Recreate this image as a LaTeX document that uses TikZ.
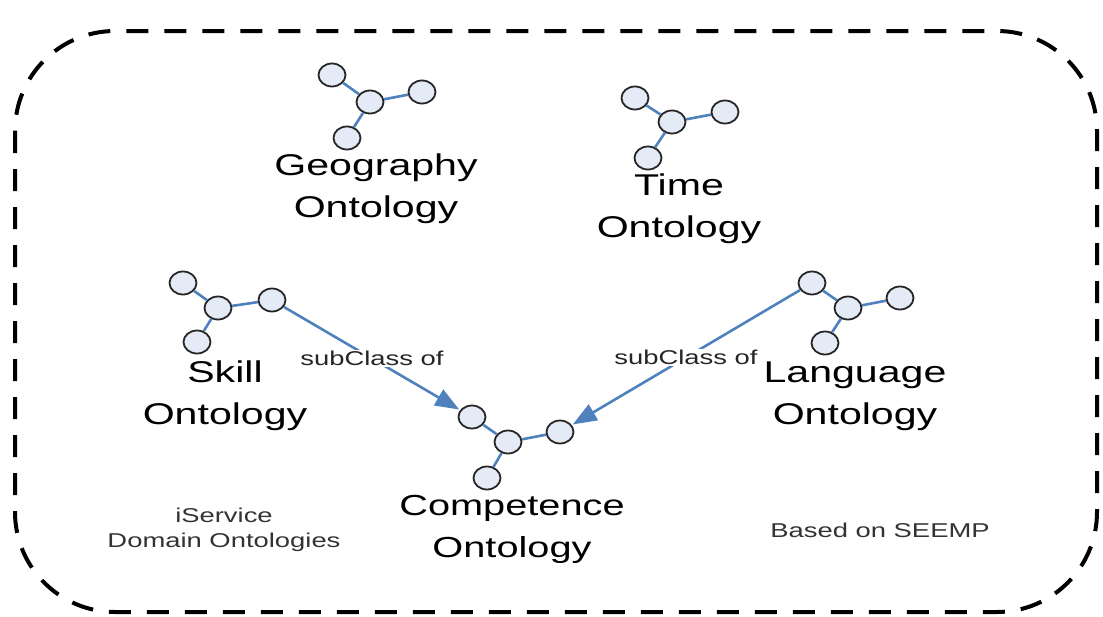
\documentclass[tikz,border=0pt]{standalone}
\usepackage{fontspec}
\newfontfamily\diagfont[FakeStretch=1.37]{Liberation Sans}
\usetikzlibrary{shapes.geometric,arrows.meta}
\definecolor{linkblue}{HTML}{4F81BD}
\definecolor{nodefill}{HTML}{E4EBF7}
\begin{document}
\begin{tikzpicture}[x=1pt,y=-1pt,
  main node/.style={ellipse,draw=black!85,line width=1.8pt,fill=nodefill,inner sep=0pt,minimum width=27pt,minimum height=23pt},
  link/.style={color=linkblue,line width=2.6pt},
  sub arrow/.style={color=linkblue,line width=2.6pt,-{Triangle[length=24pt,width=18pt]},shorten >=1pt},
  big label/.style={font=\diagfont\fontsize{30}{42}\selectfont,align=center,text=black},
  small label/.style={font=\diagfont\fontsize{20}{25}\selectfont,align=center,text=black!80}]

  \useasboundingbox (0,0) rectangle (1103,616);
  \draw[line width=4pt,dash pattern=on 22pt off 16pt,rounded corners=100pt] (15,31) rectangle (1097,612);

  % Geography
  \node[main node] (g0) at (332,75) {};
  \node[main node] (g1) at (370,102) {};
  \node[main node] (g2) at (422,92) {};
  \node[main node] (g3) at (347,138) {};
  % Time
  \node[main node] (t0) at (635,98) {};
  \node[main node] (t1) at (672,122) {};
  \node[main node] (t2) at (725,112) {};
  \node[main node] (t3) at (648,158) {};
  % Skill
  \node[main node] (s0) at (183,283) {};
  \node[main node] (s1) at (218,308) {};
  \node[main node] (s2) at (272,300) {};
  \node[main node] (s3) at (197,342) {};
  % Language
  \node[main node] (l0) at (812,283) {};
  \node[main node] (l1) at (848,308) {};
  \node[main node] (l2) at (900,298) {};
  \node[main node] (l3) at (825,343) {};
  % Competence
  \node[main node] (c0) at (472,417) {};
  \node[main node] (c1) at (508,442) {};
  \node[main node] (c2) at (560,432) {};
  \node[main node] (c3) at (487,478) {};

  \path[link]
    (g0) edge (g1) (g1) edge (g2) (g1) edge (g3)
    (t0) edge (t1) (t1) edge (t2) (t1) edge (t3)
    (s0) edge (s1) (s1) edge (s2) (s1) edge (s3)
    (l0) edge (l1) (l1) edge (l2) (l1) edge (l3)
    (c0) edge (c1) (c1) edge (c2) (c1) edge (c3);

  \draw[sub arrow] (s2) -- node[fill=white,inner sep=1pt,small label,text=black!85]{subClass of} (c0);
  \draw[sub arrow] (l0) -- node[fill=white,inner sep=1pt,small label,text=black!85]{subClass of} (c2);

  \node[big label] (geo) at (376,189) {Geography\\Ontology};
  \node[big label] (time) at (679,209) {Time\\Ontology};
  \node[big label] (skill) at (225,396) {Skill\\Ontology};
  \node[big label] (lang) at (855,396) {Language\\Ontology};
  \node[big label,font=\diagfont\fontsize{29}{42}\selectfont] (comp) at (512,529) {Competence\\Ontology};

  \node[small label] (iserv) at (224,530) {iService\\Domain Ontologies};
  \node[small label] (seemp) at (880,530) {Based on SEEMP};
\end{tikzpicture}
\end{document}
